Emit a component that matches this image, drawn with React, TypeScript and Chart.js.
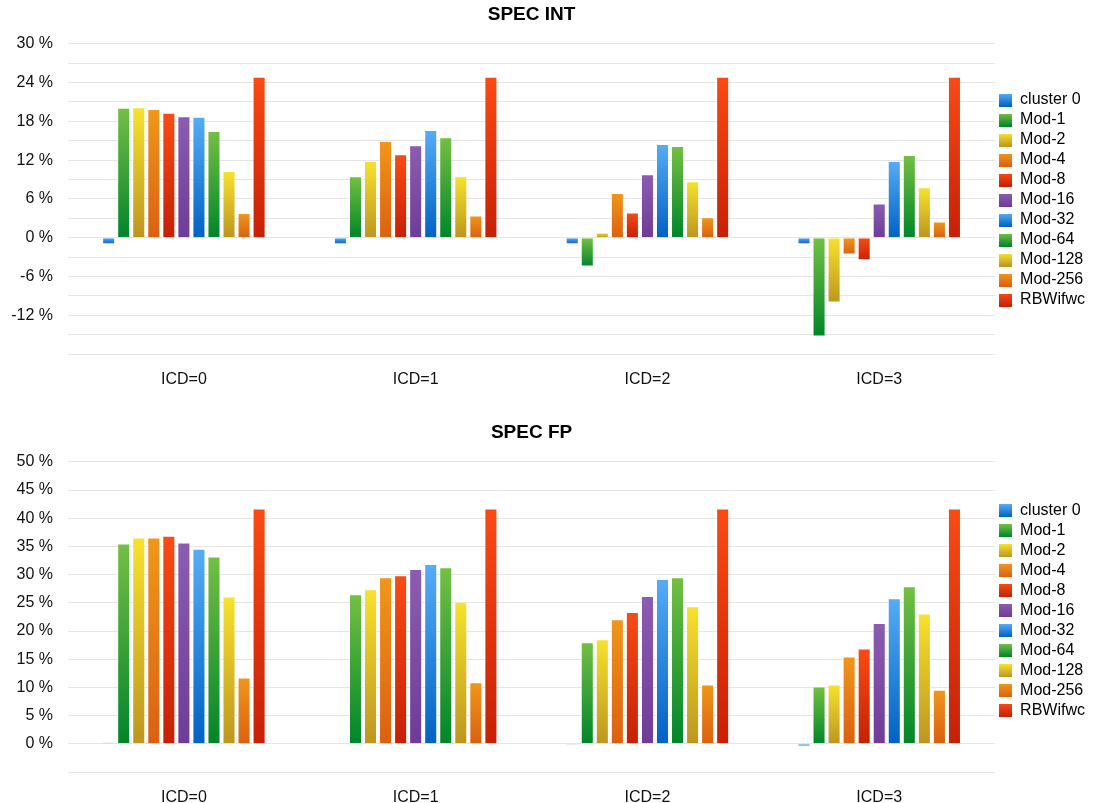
import React, { useEffect, useRef } from "react";
import { Chart, registerables } from "chart.js";

Chart.register(...registerables);

const categories = ["ICD=0", "ICD=1", "ICD=2", "ICD=3"];
const seriesNames = ["cluster 0", "Mod-1", "Mod-2", "Mod-4", "Mod-8", "Mod-16", "Mod-32", "Mod-64", "Mod-128", "Mod-256", "RBWifwc"];

// SPEC INT (%)
const intCluster0 = [-1.0, -1.0, -1.0, -1.0];
const intMod1 = [20.1, 9.5, -4.45, -15.3];
const intMod2 = [20.2, 11.85, 0.8, -10.05];
const intMod4 = [19.9, 14.95, 6.9, -2.6];
const intMod8 = [19.35, 12.9, 3.9, -3.5];
const intMod16 = [18.8, 14.3, 9.8, 5.3];
const intMod32 = [18.7, 16.65, 14.5, 11.85];
const intMod64 = [16.5, 15.55, 14.2, 12.8];
const intMod128 = [10.3, 9.5, 8.75, 7.8];
const intMod256 = [3.8, 3.45, 3.15, 2.5];
const intRBWifwc = [24.9, 24.9, 24.9, 24.9];

// SPEC FP (%)
const fpCluster0 = [0.25, 0, -0.15, -0.5];
const fpMod1 = [35.5, 26.5, 18.0, 10.15];
const fpMod2 = [36.6, 27.4, 18.55, 10.5];
const fpMod4 = [36.6, 29.55, 22.1, 15.5];
const fpMod8 = [36.9, 29.9, 23.35, 16.9];
const fpMod16 = [35.7, 31.0, 26.2, 21.4];
const fpMod32 = [34.6, 31.9, 29.2, 25.8];
const fpMod64 = [33.2, 31.3, 29.55, 27.95];
const fpMod128 = [26.1, 25.2, 24.4, 23.1];
const fpMod256 = [11.75, 10.9, 10.5, 9.6];
const fpRBWifwc = [41.7, 41.7, 41.7, 41.7];

const intSeries = [intCluster0, intMod1, intMod2, intMod4, intMod8, intMod16, intMod32, intMod64, intMod128, intMod256, intRBWifwc];
const fpSeries = [fpCluster0, fpMod1, fpMod2, fpMod4, fpMod8, fpMod16, fpMod32, fpMod64, fpMod128, fpMod256, fpRBWifwc];

// Axis ticks
const intTicks = { min: -18, max: 30, step: 3, labelEvery: 6 };
const fpTicks = { min: -5, max: 50, step: 5, labelEvery: 5 };

// gradient colours [top, bottom]
const BLUE = ["#56acf7", "#0062c4"];
const GREEN = ["#74c043", "#00852a"];
const YELLOW = ["#f8e22c", "#bd961f"];
const ORANGE = ["#f0971a", "#db6011"];
const RED = ["#f94b14", "#c62006"];
const PURPLE = ["#8c5cb1", "#6f3b98"];
const seriesColors = [BLUE, GREEN, YELLOW, ORANGE, RED, PURPLE, BLUE, GREEN, YELLOW, ORANGE, RED];

const FONT = "'Liberation Sans', Arial, Helvetica, sans-serif";

function makeIcon(c: string[]) {
  const cv = document.createElement("canvas");
  cv.width = 13;
  cv.height = 13;
  const g = cv.getContext("2d")!;
  const gr = g.createLinearGradient(0, 0, 0, 13);
  gr.addColorStop(0, c[0]);
  gr.addColorStop(1, c[1]);
  g.fillStyle = gr;
  g.fillRect(0, 0, 13, 13);
  return cv;
}

function barFill(c: string[]) {
  return (ctx: any) => {
    const chart = ctx.chart;
    if (!chart.chartArea || ctx.type !== "data") return c[0];
    const ys = chart.scales.y;
    const v = ctx.raw as number;
    const p1 = ys.getPixelForValue(v);
    const p0 = ys.getPixelForValue(0);
    const top = Math.min(p0, p1);
    const bot = Math.max(p0, p1);
    if (bot - top < 1) return c[1];
    const g = chart.ctx.createLinearGradient(0, top, 0, bot);
    g.addColorStop(0, c[0]);
    g.addColorStop(1, c[1]);
    return g;
  };
}

type PanelProps = {
  title: string;
  series: number[][];
  ticks: { min: number; max: number; step: number; labelEvery: number };
  height: number;
  padTop: number;
  xAxisHeight: number;
};

function Panel({ title, series, ticks, height, padTop, xAxisHeight }: PanelProps) {
  const ref = useRef<HTMLCanvasElement | null>(null);
  useEffect(() => {
    if (!ref.current) return;
    const icons = seriesColors.map(makeIcon);
    const chart = new Chart(ref.current, {
      type: "bar",
      data: {
        labels: categories,
        datasets: series.map((vals, i) => ({
          label: seriesNames[i],
          data: vals,
          backgroundColor: barFill(seriesColors[i]),
          borderColor: "rgba(255,255,255,0.35)",
          borderWidth: 1,
          categoryPercentage: 0.714,
          barPercentage: 0.867,
        })),
      },
      options: {
        animation: false,
        responsive: true,
        maintainAspectRatio: false,
        layout: { padding: { top: padTop, left: 0, right: 5, bottom: 0 } },
        plugins: {
          tooltip: { enabled: false },
          title: {
            display: true,
            text: title,
            fullSize: false,
            color: "#000",
            font: { family: FONT, size: 19, weight: "bold" },
            padding: { top: 3, bottom: 18 },
          },
          legend: {
            position: "right",
            fullSize: true,
            align: "center",
            labels: {
              color: "#111",
              font: { family: FONT, size: 16 },
              padding: 4,
              usePointStyle: true,
              pointStyleWidth: 13,
              boxHeight: 13,
              generateLabels: () =>
                seriesNames.map((name, i) => ({
                  text: name,
                  fillStyle: seriesColors[i][0],
                  strokeStyle: "transparent",
                  lineWidth: 0,
                  pointStyle: icons[i] as any,
                  hidden: false,
                  datasetIndex: i,
                })),
            },
          },
        },
        scales: {
          x: {
            grid: { display: false },
            border: { display: false },
            ticks: { color: "#111", font: { family: FONT, size: 16 }, padding: 8 },
            afterFit: (s: any) => {
              s.height = xAxisHeight;
            },
          },
          y: {
            min: ticks.min,
            max: ticks.max,
            grid: { color: "#e6e6e6", lineWidth: 1, drawTicks: false },
            border: { display: false },
            ticks: {
              stepSize: ticks.step,
              autoSkip: false,
              padding: 15,
              color: "#111",
              font: { family: FONT, size: 16 },
              callback: (v: any) => {
                const n = Number(v);
                if (n === ticks.min) return "";
                if (Math.abs(n % ticks.labelEvery) > 1e-9) return "";
                return n + " %";
              },
            },
            afterFit: (s: any) => {
              s.width = 68;
            },
          },
        },
      } as any,
    });
    return () => chart.destroy();
  }, []);
  return (
    <div style={{ position: "relative", width: 1100, height }}>
      <canvas ref={ref} />
    </div>
  );
}

export default function App() {
  return (
    <div style={{ position: "absolute", left: 0, top: 0, width: 1100, height: 803, background: "#fff" }}>
      <Panel title="SPEC INT" series={intSeries} ticks={intTicks} height={400} padTop={0} xAxisHeight={46} />
      <Panel title="SPEC FP" series={fpSeries} ticks={fpTicks} height={403} padTop={18} xAxisHeight={31} />
    </div>
  );
}
